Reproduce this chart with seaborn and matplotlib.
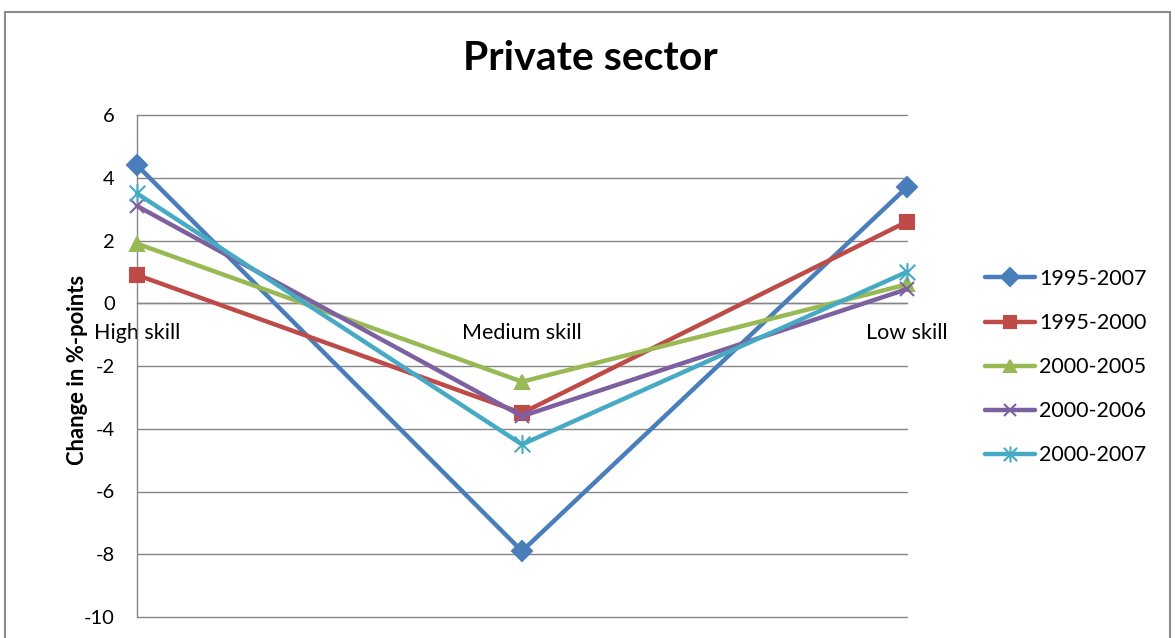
import numpy as np
import pandas as pd
import matplotlib
matplotlib.use("Agg")
import matplotlib.pyplot as plt
from matplotlib.path import Path
from matplotlib.patches import Rectangle
import seaborn as sns

categories = ["High skill", "Medium skill", "Low skill"]
periods = ["1995-2007", "1995-2000", "2000-2005", "2000-2006", "2000-2007"]
v_1995_2007 = [4.4, -7.9, 3.7]
v_1995_2000 = [0.9, -3.5, 2.6]
v_2000_2005 = [1.9, -2.5, 0.6]
v_2000_2006 = [3.1, -3.6, 0.45]
v_2000_2007 = [3.5, -4.5, 1.0]
yticks = [6, 4, 2, 0, -2, -4, -6, -8, -10]
title = "Private sector"
ylabel = "Change in %-points"

series = [v_1995_2007, v_1995_2000, v_2000_2005, v_2000_2006, v_2000_2007]
rows = []
for p, vals in zip(periods, series):
    for c, v in zip(categories, vals):
        rows.append({"category": c, "value": v, "period": p})
df = pd.DataFrame(rows)

colors = ["#4A7EBB", "#BE4B48", "#98B954", "#7D60A0", "#46AAC5"]
palette = dict(zip(periods, colors))

asterisk = Path([(-0.5, -0.5), (0.5, 0.5), (-0.5, 0.5), (0.5, -0.5), (0, -0.6), (0, 0.6)],
                [Path.MOVETO, Path.LINETO, Path.MOVETO, Path.LINETO, Path.MOVETO, Path.LINETO])
markers = dict(zip(periods, ["D", "s", "^", "x", asterisk]))
msizes = dict(zip(periods, [10.5, 10.5, 10.5, 10.5, 13.5]))

sns.set_style("white")
plt.rcParams["font.family"] = ["Lato", "DejaVu Sans"]
plt.rcParams["text.color"] = "black"
plt.rcParams["xtick.color"] = "black"
plt.rcParams["ytick.color"] = "black"
plt.rcParams["axes.labelcolor"] = "black"

fig = plt.figure(figsize=(11.75, 6.38), dpi=100)
ax = fig.add_axes([137 / 1175, 21 / 638, 770 / 1175, 502 / 638])

for p in periods:
    sub = df[df["period"] == p]
    sns.lineplot(data=sub, x="category", y="value", color=palette[p],
                 marker=markers[p], markersize=msizes[p], markeredgewidth=1.5,
                 markeredgecolor=palette[p], linewidth=3.2, sort=False,
                 label=p, ax=ax, clip_on=False, zorder=3)

ax.set_xlim(0, len(categories) - 1)
ax.set_ylim(min(yticks), max(yticks))
ax.set_yticks(yticks)
ax.set_yticklabels([str(t) for t in yticks])
ax.yaxis.grid(True, color="#868686", linewidth=1)
for gl in ax.get_ygridlines():
    gl.set_clip_on(False)
ax.xaxis.grid(False)
ax.set_axisbelow(True)
ax.set_xlabel("")
ax.set_ylabel("")

for s in ["top", "right"]:
    ax.spines[s].set_visible(False)
ax.spines["left"].set_color("#868686")
ax.spines["left"].set_linewidth(1)
ax.spines["bottom"].set_position(("data", 0))
ax.spines["bottom"].set_color("#868686")
ax.spines["bottom"].set_linewidth(1)

ax.tick_params(axis="y", length=0, pad=16, labelsize=14.5, labelcolor="black")
ax.tick_params(axis="x", direction="inout", length=10, width=1, color="#868686",
               pad=9, labelsize=15.5, labelcolor="black")

fig.text(590 / 1175, 1 - 59 / 638, title, ha="center", va="center",
         fontsize=29.5, fontweight="bold", color="black")
fig.text(78 / 1175, 1 - 370 / 638, ylabel, ha="center", va="center",
         rotation=90, fontsize=15.8, fontweight="bold", color="black")

handles, labels = ax.get_legend_handles_labels()
if ax.get_legend() is not None:
    ax.get_legend().remove()
leg = fig.legend(handles, labels, loc="upper left", bbox_to_anchor=(985 / 1175, 1 - 269 / 638),
                 frameon=False, fontsize=15.5, handlelength=2.3, handletextpad=0.2,
                 labelspacing=1.12, borderpad=0, borderaxespad=0, markerscale=0.85)
for t in leg.get_texts():
    t.set_color("black")

fig.patches.append(Rectangle((5 / 1175, -0.1), 1165 / 1175, 1.1 - 12 / 638,
                             transform=fig.transFigure, fill=False,
                             edgecolor="#8C8C8C", linewidth=1.5))

fig.savefig("out.png", dpi=100)
